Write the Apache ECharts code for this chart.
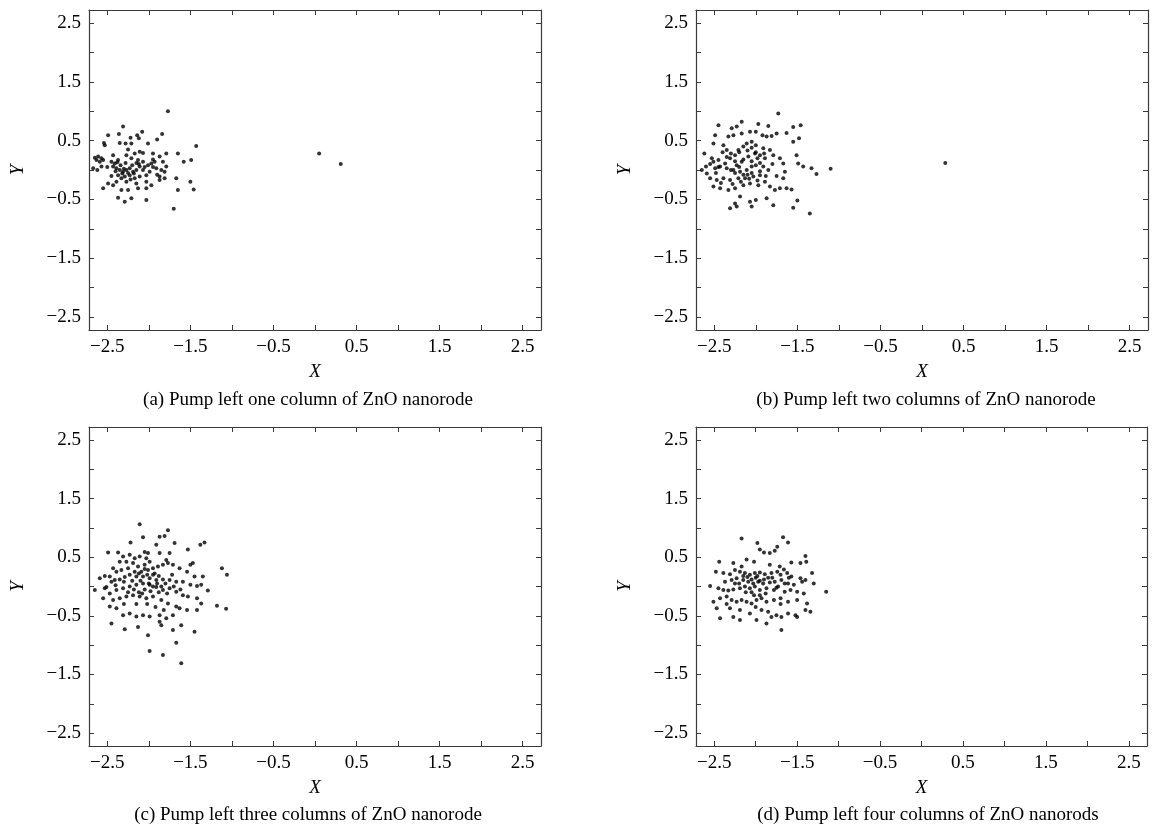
<!DOCTYPE html>
<html>
<head>
<meta charset="utf-8">
<script src="https://cdn.jsdelivr.net/npm/echarts@6/dist/echarts.min.js"></script>
<style>
html,body{margin:0;padding:0;background:#fff;}
#chart{width:1154px;height:828px;}
</style>
</head>
<body>
<div id="chart"></div>
<script>
// ---- data ----
const tickValues = [-2.5,-2,-1.5,-1,-0.5,0,0.5,1,1.5,2,2.5];
const labelValues = [-2.5,-1.5,-0.5,0.5,1.5,2.5];
const axisMin = -2.72, axisMax = 2.72;
const xName = 'X', yName = 'Y';
const captions = [
  '(a) Pump left one column of ZnO nanorode',
  '(b) Pump left two columns of ZnO nanorode',
  '(c) Pump left three columns of ZnO nanorode',
  '(d) Pump left four columns of ZnO nanorods'
];

const pointsA = [
[-1.77,1.00],[-2.31,0.74],[-2.08,0.65],[-2.49,0.59],[-2.36,0.61],[-2.22,0.55],[-2.14,0.59],[-2.12,0.54],
[-1.84,0.61],[-1.90,0.52],[-2.54,0.46],[-2.53,0.42],[-2.35,0.46],[-2.28,0.45],[-2.21,0.45],[-2.01,0.45],
[-2.25,0.35],[-1.43,0.41],[-1.65,0.28],[-1.58,0.14],[-1.49,0.17],
[-2.65,0.21],[-2.61,0.23],[-2.57,0.20],[-2.63,0.17],[-2.59,0.14],[-2.55,0.17],[-2.67,0.03],[-2.62,0.00],[-2.57,0.06],
[-2.45,0.14],[-2.41,0.11],[-2.37,0.17],[-2.43,0.06],[-2.39,0.03],[-2.35,0.00],[-2.31,-0.03],[-2.27,0.00],
[-2.23,0.03],[-2.19,-0.03],[-2.15,0.00],[-2.11,0.06],[-2.07,0.00],[-2.37,-0.09],[-2.33,-0.14],[-2.29,-0.11],
[-2.23,-0.09],[-2.17,-0.14],[-2.11,-0.11],[-2.39,-0.20],[-2.27,-0.20],[-2.15,-0.23],[-2.43,0.25],[-2.27,0.25],
[-2.17,0.28],[-2.11,0.31],[-2.21,0.20],[-2.13,0.17],[-2.07,0.14],[-2.01,0.08],[-1.97,0.11],[-1.93,0.14],
[-1.87,0.23],[-1.83,0.14],[-1.79,0.06],[-1.85,0.00],[-1.81,-0.03],[-1.91,0.03],[-1.99,-0.03],[-2.03,-0.09],
[-1.87,-0.17],[-1.81,-0.14],[-2.03,-0.20],[-2.13,-0.31],[-2.25,-0.34],[-2.33,-0.34],[-2.43,-0.26],[-2.49,-0.23],
[-2.55,-0.31],[-2.03,-0.31],[-1.97,-0.26],[-2.21,-0.48],[-2.29,-0.54],[-2.37,-0.47],[-2.03,-0.51],
[-1.67,-0.14],[-1.50,-0.20],[-1.46,-0.33],[-1.65,-0.34],[-1.70,-0.66],[-1.87,-0.11],[-1.79,0.28],[-1.95,0.28],[-2.07,0.29],
[-2.30,0.02],[-2.25,-0.05],[-2.20,0.08],[-2.34,0.08],[-2.18,-0.06],[-2.28,0.12],[-2.40,-0.02],[-2.05,0.05],[-1.95,0.05],[-2.12,0.10],
[-2.32,-0.06],[-2.22,-0.16],[-2.38,0.13],[-2.15,0.12],[-1.90,-0.08],[-2.45,-0.10],[-2.50,0.05],[-1.95,0.18],
[0.05,0.28],[0.31,0.10]
];

const pointsB = [
[-1.73,0.96],[-2.45,0.76],[-2.29,0.71],[-2.23,0.74],[-2.17,0.82],[-1.97,0.78],[-1.85,0.75],[-1.55,0.73],
[-1.46,0.76],[-1.63,0.63],[-1.75,0.62],[-1.81,0.58],[-1.87,0.57],[-1.92,0.59],[-2.00,0.65],[-2.07,0.65],
[-2.17,0.62],[-2.27,0.59],[-2.33,0.57],[-2.49,0.59],[-2.51,0.45],[-2.39,0.42],[-2.35,0.34],[-2.62,0.28],
[-2.53,0.20],[-2.51,0.14],[-2.45,0.17],[-2.43,0.06],[-2.49,0.03],[-2.37,0.11],[-2.31,0.20],[-2.25,0.25],
[-2.21,0.34],[-2.15,0.40],[-2.11,0.45],[-2.05,0.48],[-2.00,0.42],[-1.91,0.37],[-1.83,0.34],[-1.79,0.25],
[-1.71,0.20],[-1.67,0.11],[-1.89,0.20],[-1.95,0.25],[-2.01,0.28],[-2.09,0.23],[-2.17,0.14],[-2.23,0.08],
[-2.27,0.00],[-2.19,-0.03],[-2.11,0.00],[-2.05,0.06],[-2.00,0.08],[-1.91,0.06],[-1.85,0.00],[-1.95,-0.09],
[-2.03,-0.11],[-2.13,-0.14],[-2.21,-0.14],[-2.31,-0.17],[-2.39,-0.14],[-2.47,-0.17],[-2.55,-0.14],[-2.51,-0.28],
[-2.43,-0.31],[-2.33,-0.34],[-2.25,-0.31],[-2.15,-0.26],[-2.07,-0.23],[-1.97,-0.26],[-1.89,-0.20],[-1.83,-0.28],
[-1.77,-0.34],[-1.71,-0.31],[-1.63,-0.31],[-1.57,-0.33],[-1.67,-0.14],[-1.65,-0.03],[-1.49,0.11],[-1.51,0.25],
[-1.43,0.06],[-1.33,0.03],[-1.10,0.02],[-1.27,-0.07],[-1.55,0.48],[-1.48,0.54],[-2.19,-0.45],[-2.25,-0.57],
[-2.23,-0.62],[-2.31,-0.65],[-2.07,-0.54],[-2.05,-0.62],[-2.00,-0.51],[-1.87,-0.48],[-1.79,-0.60],[-1.55,-0.64],
[-1.50,-0.52],[-1.35,-0.74],[-2.59,-0.06],[-2.60,0.06],[-2.65,0.00],
[-2.20,0.05],[-2.15,0.18],[-2.05,0.15],[-2.30,0.00],[-2.10,-0.08],[-1.98,0.20],[-2.25,0.15],[-1.95,-0.02],
[-2.40,0.30],[-2.30,0.28],[-2.20,0.30],[-2.10,0.33],[-2.00,0.30],[-1.90,0.28],[-2.45,0.05],[-2.35,0.03],
[-2.25,-0.05],[-2.15,-0.08],[-2.05,-0.05],[-1.95,0.12],[-2.42,-0.22],[-2.28,-0.24],[-2.18,-0.20],[-2.08,-0.15],
[-1.98,-0.18],[-1.88,-0.10],[-2.35,0.22],[-2.05,0.38],[-1.80,0.10],[-1.75,-0.10],[-2.48,-0.05],[-2.55,0.10],
[0.28,0.12]
];

const pointsC = [
[-2.11,1.06],[-1.77,0.96],[-2.07,0.84],[-1.81,0.86],[-1.87,0.85],[-1.69,0.74],[-2.22,0.75],[-1.33,0.75],
[-1.38,0.71],[-1.91,0.71],[-2.05,0.59],[-2.01,0.57],[-1.87,0.57],[-1.75,0.57],[-1.53,0.63],[-2.49,0.58],
[-2.37,0.58],[-2.31,0.51],[-2.23,0.54],[-2.17,0.48],[-2.11,0.51],[-2.03,0.48],[-1.99,0.42],[-2.05,0.37],
[-2.13,0.34],[-2.19,0.40],[-2.27,0.42],[-2.35,0.42],[-2.43,0.31],[-2.39,0.25],[-2.33,0.28],[-2.25,0.31],
[-2.17,0.25],[-2.09,0.25],[-2.01,0.28],[-1.95,0.31],[-1.89,0.34],[-1.83,0.37],[-1.79,0.45],[-1.77,0.40],
[-1.71,0.37],[-1.63,0.31],[-1.54,0.25],[-1.50,0.37],[-1.47,0.40],[-1.45,0.17],[-1.35,0.17],[-1.12,0.31],
[-1.06,0.20],[-2.59,0.14],[-2.53,0.18],[-2.47,0.17],[-2.41,0.11],[-2.35,0.12],[-2.29,0.16],[-2.23,0.20],
[-2.15,0.17],[-2.07,0.17],[-1.99,0.14],[-1.91,0.11],[-1.83,0.12],[-1.75,0.11],[-1.67,0.08],[-1.59,0.08],
[-1.50,0.03],[-1.42,0.01],[-1.37,0.03],[-1.29,-0.07],[-2.53,-0.03],[-2.65,-0.06],[-2.51,-0.01],[-2.47,-0.12],
[-2.39,-0.06],[-2.31,-0.03],[-2.23,0.00],[-2.15,0.03],[-2.07,0.05],[-1.99,0.03],[-1.91,-0.01],[-1.83,-0.06],
[-1.75,-0.03],[-1.67,-0.09],[-1.59,-0.15],[-1.53,-0.17],[-1.42,-0.20],[-2.55,-0.20],[-2.43,-0.23],[-2.35,-0.20],
[-2.27,-0.17],[-2.19,-0.15],[-2.11,-0.17],[-2.03,-0.20],[-1.95,-0.17],[-1.85,-0.23],[-1.77,-0.29],[-1.67,-0.34],
[-1.63,-0.37],[-1.54,-0.40],[-1.42,-0.40],[-1.37,-0.29],[-1.18,-0.33],[-1.07,-0.38],[-2.47,-0.34],[-2.39,-0.37],
[-2.31,-0.49],[-2.23,-0.46],[-2.15,-0.51],[-2.07,-0.49],[-1.99,-0.51],[-1.87,-0.49],[-1.79,-0.54],[-1.71,-0.49],
[-2.45,-0.63],[-2.29,-0.73],[-2.13,-0.69],[-2.01,-0.83],[-1.87,-0.60],[-1.85,-0.66],[-1.71,-0.74],[-1.61,-0.66],
[-1.99,-1.10],[-1.83,-1.17],[-1.61,-1.31],[-1.67,-0.96],[-1.45,-0.77],
[-2.00,0.05],[-1.95,0.00],[-2.05,-0.05],[-1.90,0.05],[-2.10,0.10],[-1.98,-0.08],[-2.02,0.20],[-1.85,0.00],[-2.12,-0.10],[-1.93,0.22],
[-2.20,0.10],[-2.12,0.22],[-2.05,0.30],[-1.95,0.20],[-1.88,0.18],[-1.80,0.05],[-1.78,-0.12],[-1.88,-0.10],
[-2.08,-0.12],[-2.18,-0.05],[-2.25,-0.10],[-2.40,0.02],[-2.45,0.08],[-2.30,0.08],[-1.70,0.00],[-1.62,-0.05],
[-1.72,0.20],[-2.02,-0.30],[-1.92,-0.35],[-2.15,-0.30],[-1.82,-0.40],[-2.30,-0.30]
];

const pointsD = [
[-2.17,0.82],[-1.67,0.84],[-1.98,0.74],[-1.61,0.75],[-1.90,0.58],[-1.83,0.57],[-1.77,0.61],[-1.74,0.68],
[-1.95,0.63],[-1.40,0.52],[-1.39,0.42],[-1.46,0.40],[-1.57,0.41],[-2.11,0.46],[-2.27,0.40],[-2.44,0.42],
[-2.02,0.42],[-2.17,0.34],[-1.83,0.37],[-1.71,0.34],[-1.66,0.29],[-2.48,0.25],[-2.39,0.23],[-2.31,0.21],
[-2.25,0.28],[-2.19,0.25],[-2.13,0.23],[-2.07,0.20],[-2.01,0.23],[-1.95,0.24],[-1.89,0.21],[-1.81,0.23],
[-1.74,0.25],[-1.70,0.20],[-1.62,0.23],[-1.57,0.17],[-1.46,0.14],[-1.40,0.11],[-1.32,0.23],[-1.30,0.05],
[-1.44,0.08],[-2.37,0.08],[-2.29,0.11],[-2.23,0.14],[-2.15,0.11],[-2.09,0.08],[-2.03,0.05],[-1.97,0.08],
[-1.91,0.05],[-1.83,0.07],[-1.77,0.08],[-1.69,0.11],[-1.61,0.05],[-1.54,0.03],[-2.55,0.01],[-2.45,-0.03],
[-2.39,-0.06],[-2.33,-0.07],[-2.27,-0.05],[-2.19,-0.03],[-2.13,0.00],[-2.07,-0.03],[-2.01,0.00],[-1.95,-0.06],
[-1.87,-0.03],[-1.78,-0.06],[-1.73,0.00],[-1.65,-0.09],[-1.58,-0.06],[-1.50,-0.09],[-1.42,-0.12],[-1.15,-0.09],
[-2.51,-0.26],[-2.43,-0.20],[-2.35,-0.17],[-2.29,-0.23],[-2.23,-0.26],[-2.17,-0.23],[-2.11,-0.26],[-2.05,-0.29],
[-1.99,-0.23],[-1.93,-0.20],[-1.87,-0.26],[-1.78,-0.23],[-1.70,-0.20],[-1.61,-0.26],[-1.50,-0.23],[-1.38,-0.29],
[-2.47,-0.37],[-2.31,-0.37],[-2.19,-0.40],[-2.07,-0.46],[-1.93,-0.40],[-1.85,-0.43],[-1.81,-0.52],[-1.75,-0.49],
[-1.69,-0.52],[-1.61,-0.46],[-1.52,-0.49],[-1.40,-0.40],[-1.34,-0.43],[-2.43,-0.54],[-2.27,-0.52],[-2.19,-0.57],
[-1.99,-0.57],[-1.87,-0.63],[-1.69,-0.74],[-1.50,-0.52],
[-2.00,0.15],[-1.90,0.12],[-2.10,0.16],[-1.95,0.10],[-1.85,0.15],[-2.05,-0.10],[-1.95,-0.15],[-2.20,0.05],
[-2.15,0.18],[-2.05,0.12],[-1.98,0.18],[-1.80,0.15],[-1.75,-0.02],[-1.88,-0.12],[-2.02,-0.15],[-2.12,-0.10],
[-2.25,0.05],[-1.65,0.05],[-1.70,-0.30],[-2.00,-0.35],[-2.35,-0.30],[-1.60,0.15]
];

const panels = [pointsA, pointsB, pointsC, pointsD];

// ---- layout ----
const FONT = '"Liberation Serif","Times New Roman",serif';
const gridBoxes = [
  {left: 89,  top: 10,  width: 452, height: 320},
  {left: 696, top: 10,  width: 452, height: 320},
  {left: 89,  top: 427, width: 452, height: 319},
  {left: 696, top: 427, width: 451, height: 319}
];
const captionPos = [[308,400],[926,400],[308,815],[928,815]];

function fmt(v){ return (Math.round(v*10)/10).toFixed(1).replace('-', '\u2212'); }

const lineCol = '#3a3a3a';
function axisBase(i, pos, withLabels){
  return {
    gridIndex: i, type: 'value', min: axisMin, max: axisMax, position: pos,
    axisLine: {show: true, onZero: false, lineStyle: {color: lineCol, width: 1.2}},
    axisTick: {show: true, inside: true, length: 5, customValues: tickValues, lineStyle: {color: lineCol, width: 1}},
    axisLabel: withLabels ? {show: true, customValues: labelValues, formatter: fmt, fontFamily: FONT, fontSize: 19, color: '#000', margin: 8}
                          : {show: false},
    splitLine: {show: false}
  };
}

const grid = [], xAxis = [], yAxis = [], series = [], graphic = [];
panels.forEach((pts, i) => {
  grid.push(Object.assign({containLabel: false}, gridBoxes[i]));
  const xb = axisBase(i, 'bottom', true);
  xb.name = xName; xb.nameLocation = 'middle'; xb.nameGap = 32;
  xb.nameTextStyle = {fontFamily: FONT, fontStyle: 'italic', fontSize: 19, color: '#000'};
  xAxis.push(xb);
  xAxis.push(axisBase(i, 'top', false));
  const yl = axisBase(i, 'left', true);
  yl.name = yName; yl.nameLocation = 'middle'; yl.nameGap = 62;
  yl.nameTextStyle = {fontFamily: FONT, fontStyle: 'italic', fontSize: 19, color: '#000'};
  yAxis.push(yl);
  yAxis.push(axisBase(i, 'right', false));
  series.push({
    type: 'scatter', xAxisIndex: 2*i, yAxisIndex: 2*i, data: pts,
    symbol: 'circle', symbolSize: 4, itemStyle: {color: '#000'}, silent: true, animation: false
  });
  graphic.push({
    type: 'text', x: captionPos[i][0], y: captionPos[i][1],
    style: {text: captions[i], fontFamily: FONT, fontSize: 19, fill: '#000', align: 'center', verticalAlign: 'middle'}
  });
});

const chart = echarts.init(document.getElementById('chart'), null, {renderer: 'canvas'});
chart.setOption({animation: false, backgroundColor: '#fff', grid, xAxis, yAxis, series, graphic});
</script>
</body>
</html>
